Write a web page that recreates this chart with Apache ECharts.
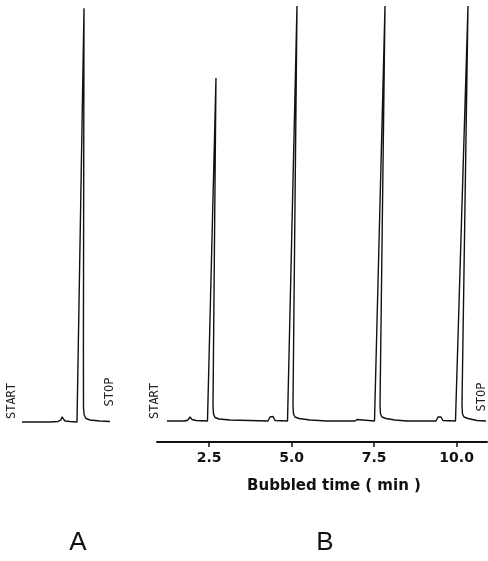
<!DOCTYPE html>
<html>
<head>
<meta charset="utf-8">
<style>html,body{margin:0;padding:0;background:#fff;}#c{width:488px;height:561px;}</style>
<script src="https://cdn.jsdelivr.net/npm/echarts@6/dist/echarts.min.js"></script>
</head>
<body>
<div id="c"></div>
<script>
// Panel A (standard): x in arbitrary units, y = detector signal (% of full scale)
const aX = [2, 30, 38, 41, 42, 43, 44, 45, 50, 57, 58, 64, 64.6, 63.4, 63.5, 64.2, 66, 70, 80, 90];
const aY = [1.86, 1.86, 1.98, 2.33, 3.02, 2.56, 2.91, 2.09, 1.98, 1.86, 2.09, 98.1, 98.1, 18.6, 5.12, 3.49, 2.67, 2.33, 2.09, 1.98];

// Panel B: bubbled time (min) vs detector signal
const bT = [1.223, 1.768, 1.859, 1.92, 1.981, 2.102, 2.45, 2.465, 2.707, 2.726, 2.617, 2.632, 2.678, 2.799, 3.132, 3.738,
  4.284, 4.344, 4.39, 4.435, 4.496, 4.875, 4.89, 5.162, 5.181, 5.041, 5.056, 5.102, 5.223, 5.556, 6.071,
  6.92, 6.981, 7.041, 7.511, 7.526, 7.829, 7.847, 7.678, 7.693, 7.738, 7.859, 8.132, 8.496,
  9.374, 9.435, 9.481, 9.526, 9.587, 9.965, 9.98, 10.344, 10.362, 10.162, 10.177, 10.223, 10.344, 10.617, 10.89];
const bY = [2.09, 2.09, 2.33, 3.02, 2.44, 2.21, 2.09, 2.33, 81.86, 81.86, 5.81, 3.72, 2.91, 2.56, 2.33, 2.21,
  2.09, 3.02, 2.56, 3.14, 2.21, 2.09, 2.33, 98.6, 98.6, 5.81, 3.72, 3.02, 2.67, 2.33, 2.09,
  2.09, 2.44, 2.21, 2.09, 2.33, 98.6, 98.6, 5.81, 3.72, 3.02, 2.67, 2.33, 2.09,
  2.09, 3.02, 2.56, 3.02, 2.21, 2.09, 2.33, 98.6, 98.6, 5.81, 3.72, 3.02, 2.67, 2.21, 2.09];

const tickValues = [2.5, 5.0, 7.5, 10.0];
const tickLabels = ['2.5', '5.0', '7.5', '10.0'];
const xTitle = 'Bubbled time ( min )';
const panelLabels = ['A', 'B'];
const markers = ['START', 'STOP'];

const zip = (xs, ys) => xs.map((x, i) => [x, ys[i]]);

const chart = echarts.init(document.getElementById('c'), null, {renderer: 'canvas'});
const lineStyle = {color: '#111', width: 1.4};
const monoText = {fill: '#222', font: '12px "DejaVu Sans Mono"', align: 'center', verticalAlign: 'middle'};

chart.setOption({
  animation: false,
  backgroundColor: '#fff',
  grid: [
    {left: 20, top: 0, width: 100, height: 430},
    {left: 157, top: 0, width: 330, height: 430}
  ],
  xAxis: [
    {gridIndex: 0, type: 'value', min: 0, max: 100, show: false},
    {gridIndex: 1, type: 'value', min: 0.92, max: 10.92, offset: 12,
      axisLine: {show: true, onZero: false, lineStyle: {color: '#111', width: 2}},
      axisTick: {show: true, length: 5, inside: false, customValues: tickValues, lineStyle: {color: '#111', width: 1.5}},
      axisLabel: {show: true, margin: 9, customValues: tickValues,
        formatter: v => tickLabels[tickValues.indexOf(v)] ?? '',
        color: '#111', fontFamily: 'DejaVu Sans', fontWeight: 'bold', fontSize: 14},
      splitLine: {show: false},
      name: xTitle, nameLocation: 'middle', nameGap: 37,
      nameTextStyle: {color: '#111', fontFamily: 'DejaVu Sans', fontWeight: 'bold', fontSize: 15, padding: [0, 0, 0, 24]}
    }
  ],
  yAxis: [
    {gridIndex: 0, type: 'value', min: 0, max: 100, show: false},
    {gridIndex: 1, type: 'value', min: 0, max: 100, show: false}
  ],
  series: [
    {type: 'line', xAxisIndex: 0, yAxisIndex: 0, data: zip(aX, aY), showSymbol: false, symbol: 'none', lineStyle: lineStyle, clip: true},
    {type: 'line', xAxisIndex: 1, yAxisIndex: 1, data: zip(bT, bY), showSymbol: false, symbol: 'none', lineStyle: lineStyle, clip: true}
  ],
  graphic: [
    {type: 'text', x: 12, y: 401, rotation: Math.PI / 2, style: Object.assign({text: markers[0]}, monoText)},
    {type: 'text', x: 110, y: 392, rotation: Math.PI / 2, style: Object.assign({text: markers[1]}, monoText)},
    {type: 'text', x: 155, y: 401, rotation: Math.PI / 2, style: Object.assign({text: markers[0]}, monoText)},
    {type: 'text', x: 482, y: 397, rotation: Math.PI / 2, style: Object.assign({text: markers[1]}, monoText)},
    {type: 'text', x: 78, y: 543, style: {text: panelLabels[0], fill: '#111', font: '26px "Liberation Sans"', align: 'center', verticalAlign: 'middle'}},
    {type: 'text', x: 325, y: 543, style: {text: panelLabels[1], fill: '#111', font: '26px "Liberation Sans"', align: 'center', verticalAlign: 'middle'}}
  ]
});
</script>
</body>
</html>
